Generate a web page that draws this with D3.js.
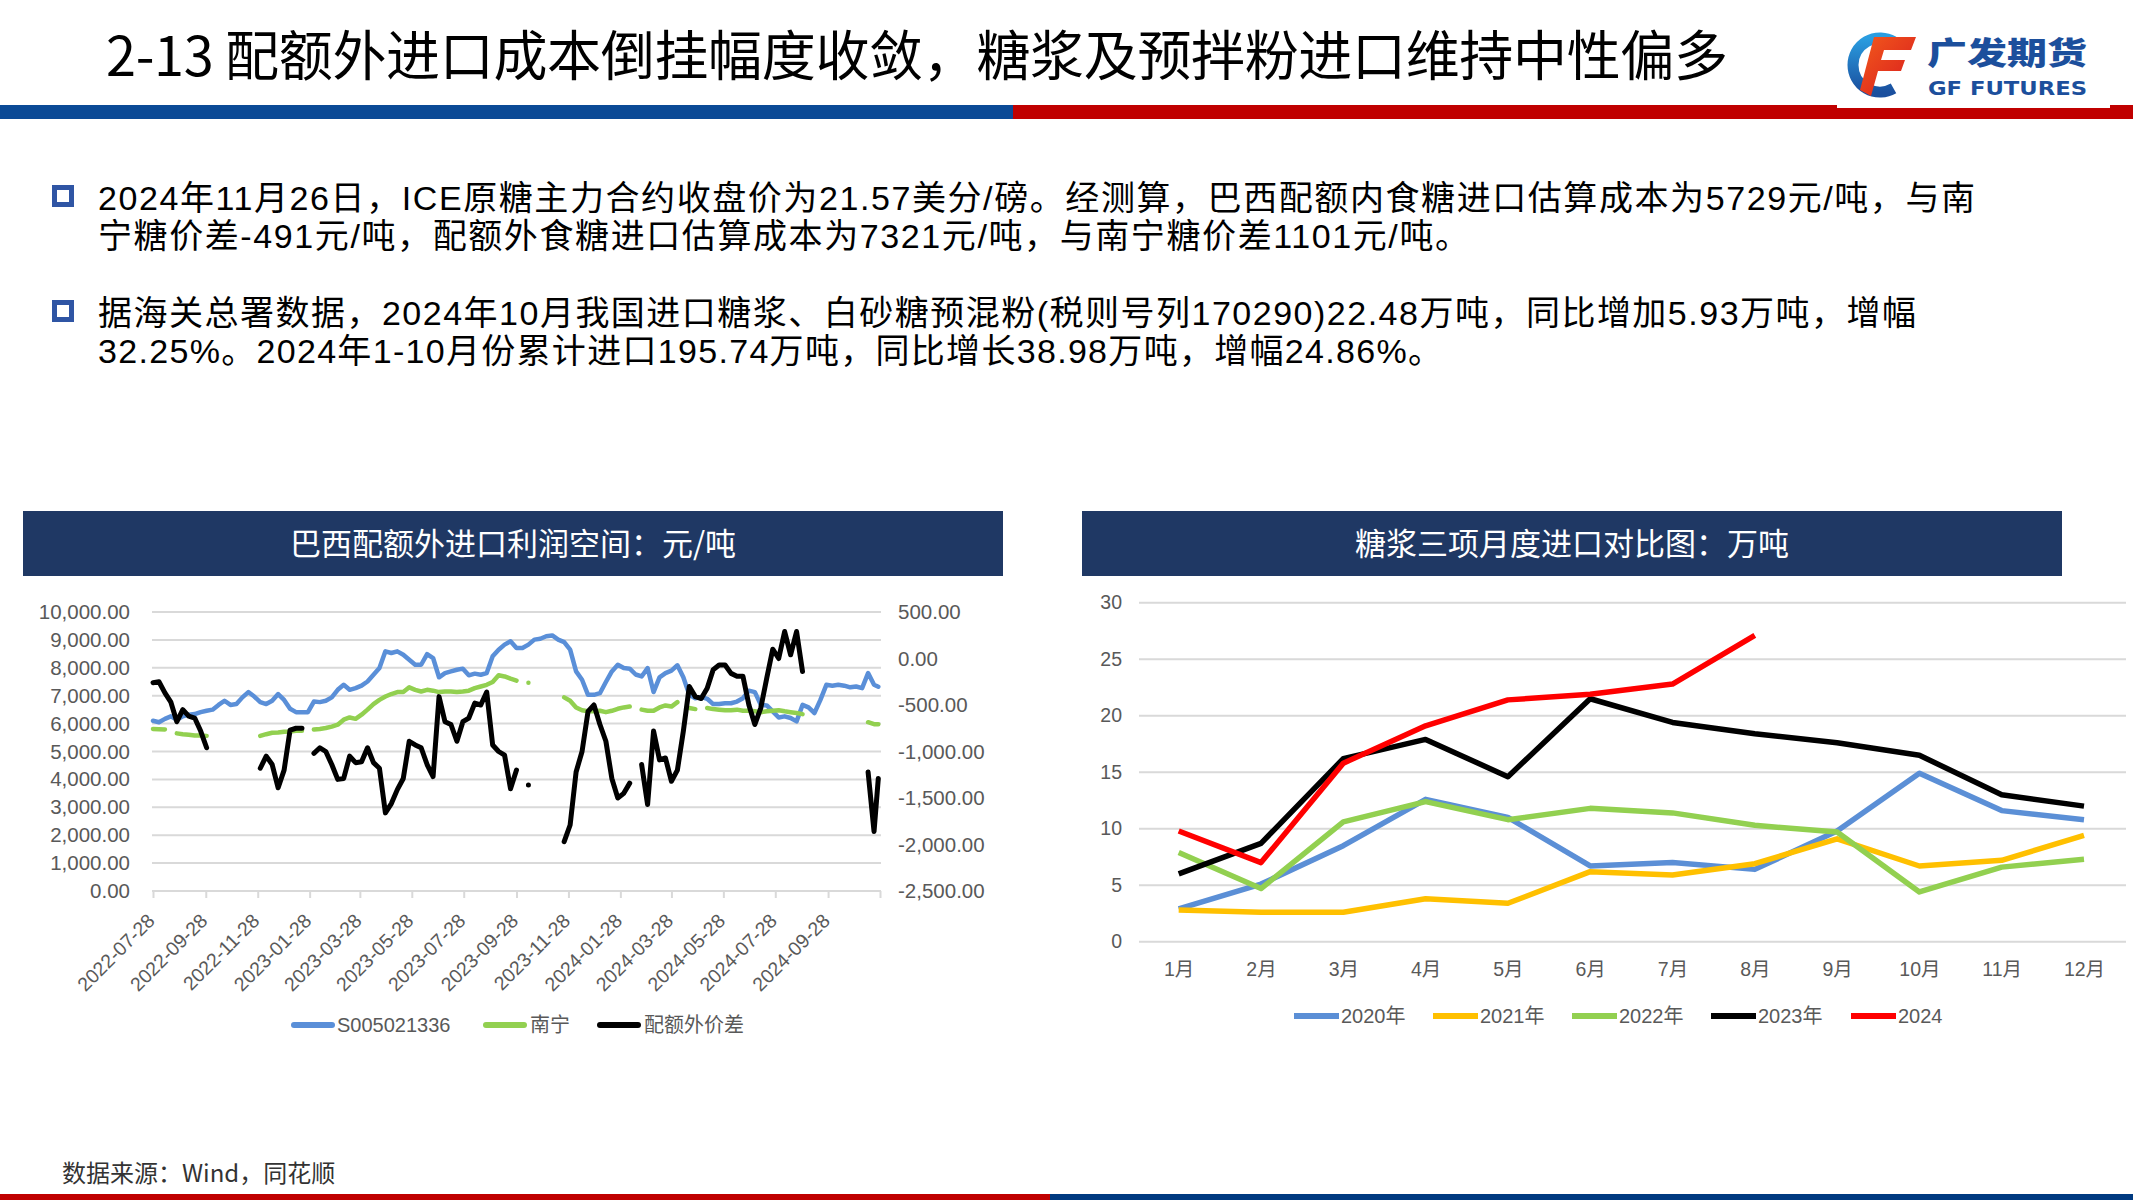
<!DOCTYPE html>
<html><head><meta charset="utf-8">
<script src="https://cdn.jsdelivr.net/npm/d3@7"></script>
<style>
html,body{margin:0;padding:0;background:#fff;}
svg{display:block;}
</style></head><body>
<svg id="c" width="2133" height="1200"></svg>
<script>
// ---------------- DATA ----------------
const titleText = "2-13 配额外进口成本倒挂幅度收敛，糖浆及预拌粉进口维持中性偏多";
const bullet1 = ["2024年11月26日，ICE原糖主力合约收盘价为21.57美分/磅。经测算，巴西配额内食糖进口估算成本为5729元/吨，与南",
                 "宁糖价差-491元/吨，配额外食糖进口估算成本为7321元/吨，与南宁糖价差1101元/吨。"];
const bullet2 = ["据海关总署数据，2024年10月我国进口糖浆、白砂糖预混粉(税则号列170290)22.48万吨，同比增加5.93万吨，增幅",
                 "32.25%。2024年1-10月份累计进口195.74万吨，同比增长38.98万吨，增幅24.86%。"];
const leftTitle = "巴西配额外进口利润空间：元/吨";
const rightTitle = "糖浆三项月度进口对比图：万吨";
const sourceText = "数据来源：Wind，同花顺";

// left chart: weekly samples
const leftDates = ["2022-07-28","2022-08-04","2022-08-11","2022-08-18","2022-08-25","2022-09-01","2022-09-08","2022-09-15","2022-09-22","2022-09-29",
"2022-10-06","2022-10-13","2022-10-20","2022-10-27","2022-11-03","2022-11-10","2022-11-17","2022-11-24","2022-12-01","2022-12-08",
"2022-12-15","2022-12-22","2022-12-29","2023-01-05","2023-01-12","2023-01-19","2023-01-26","2023-02-02","2023-02-09","2023-02-16",
"2023-02-23","2023-03-02","2023-03-09","2023-03-16","2023-03-23","2023-03-30","2023-04-06","2023-04-13","2023-04-20","2023-04-27",
"2023-05-04","2023-05-11","2023-05-18","2023-05-25","2023-06-01","2023-06-08","2023-06-15","2023-06-22","2023-06-29","2023-07-06",
"2023-07-13","2023-07-20","2023-07-27","2023-08-03","2023-08-10","2023-08-17","2023-08-24","2023-08-31","2023-09-07","2023-09-14",
"2023-09-21","2023-09-28","2023-10-05","2023-10-12","2023-10-19","2023-10-26","2023-11-02","2023-11-09","2023-11-16","2023-11-23",
"2023-11-30","2023-12-07","2023-12-14","2023-12-21","2023-12-28","2024-01-04","2024-01-11","2024-01-18","2024-01-25","2024-02-01",
"2024-02-08","2024-02-15","2024-02-22","2024-02-29","2024-03-07","2024-03-14","2024-03-21","2024-03-28","2024-04-04","2024-04-11",
"2024-04-18","2024-04-25","2024-05-02","2024-05-09","2024-05-16","2024-05-23","2024-05-30","2024-06-06","2024-06-13","2024-06-20",
"2024-06-27","2024-07-04","2024-07-11","2024-07-18","2024-07-25","2024-08-01","2024-08-08","2024-08-15","2024-08-22","2024-08-29",
"2024-09-05","2024-09-12","2024-09-19","2024-09-26","2024-10-03","2024-10-10","2024-10-17","2024-10-24","2024-10-31","2024-11-07",
"2024-11-14","2024-11-21","2024-11-26"];

const costS005021336 = [6100,6050,6170,6260,6140,6260,6320,6340,6410,6460,
6500,6670,6820,6670,6700,6940,7130,6970,6770,6700,
6820,7060,6850,6530,6410,6410,6410,6790,6770,6820,
6940,7210,7390,7210,7270,7360,7510,7750,7990,8590,
8530,8590,8470,8290,8110,8110,8490,8350,7660,7810,
7870,7930,7970,7730,7790,7750,7810,8410,8650,8830,
8950,8710,8710,8830,9010,9040,9130,9160,9010,8920,
8650,7870,7570,7030,7030,7090,7490,7870,8110,7990,
7970,7760,7690,7990,7130,7660,7810,7900,8090,7660,
7030,6910,6960,6890,6700,6700,6730,6730,6790,6910,
7180,7130,6670,6650,6440,6220,6260,6200,6080,6670,
6580,6380,6850,7390,7360,7390,7360,7300,7330,7270,
7810,7390,7320];

const nanning = [5810,5800,5790,null,5650,5620,5600,5570,5570,5560,
null,null,null,null,null,null,null,null,5560,5620,
5670,5680,5710,5720,5740,5740,null,5790,5810,5840,
5890,5960,6140,6220,6170,6320,6500,6700,6850,6970,
7060,7130,7130,7300,7210,7150,7210,7180,7130,7150,
7150,7130,7150,7180,7270,7330,7390,7490,7730,7690,
7610,7540,null,7460,null,null,null,null,null,6940,
6820,6580,6480,6440,6440,6460,6410,6460,6530,6580,
6610,null,6500,6460,6460,6580,6650,6610,6770,null,
6560,6520,null,6560,6520,6500,6480,6480,6500,6460,
6460,6440,6410,6440,6460,6480,6440,6410,6380,6340,
null,null,null,null,null,null,null,null,null,null,
6050,5980,5980];

const quotaSpread = [-260,-250,-370,-470,-680,-550,-620,-640,-780,-960,
null,null,null,null,null,null,null,null,-1180,-1050,
-1140,-1390,-1200,-770,-750,-750,null,-1020,-960,-1000,
-1140,-1300,-1290,-1050,-1120,-1110,-960,-1120,-1180,-1660,
-1560,-1410,-1290,-890,-930,-960,-1140,-1270,-410,-680,
-710,-890,-680,-640,-480,-500,-360,-930,-1000,-1040,
-1400,-1200,null,-1360,null,null,null,null,null,-1970,
-1790,-1220,-1000,-570,-500,-710,-890,-1290,-1500,-1450,
-1340,null,-1140,-1570,-780,-1090,-1070,-1320,-1200,-780,
-300,-410,-430,-320,-120,-70,-70,-160,-190,-190,
-500,-710,-530,-210,100,0,290,40,290,-140,
null,null,null,null,null,null,null,null,null,null,
-1220,-1860,-1290];

const leftAxisTicks = [0,1000,2000,3000,4000,5000,6000,7000,8000,9000,10000];
const rightAxisTicks = [-2500,-2000,-1500,-1000,-500,0,500];
const dateTicks = ["2022-07-28","2022-09-28","2022-11-28","2023-01-28","2023-03-28","2023-05-28","2023-07-28",
"2023-09-28","2023-11-28","2024-01-28","2024-03-28","2024-05-28","2024-07-28","2024-09-28","2024-11-28"];
const dateTickLabels = dateTicks.slice(0,14);
const leftSeriesNames = ["S005021336","南宁","配额外价差"];

// right chart
const months = ["1月","2月","3月","4月","5月","6月","7月","8月","9月","10月","11月","12月"];
const imp2020 = [2.9,5.1,8.5,12.6,11.0,6.7,7.0,6.4,9.8,14.9,11.6,10.8];
const imp2021 = [2.8,2.6,2.6,3.8,3.4,6.2,5.9,6.9,9.1,6.7,7.2,9.4];
const imp2022 = [7.9,4.7,10.6,12.4,10.8,11.8,11.4,10.3,9.7,4.4,6.6,7.3];
const imp2023 = [6.0,8.7,16.2,17.9,14.6,21.5,19.4,18.4,17.6,16.5,13.0,12.0];
const imp2024 = [9.8,7.0,15.8,19.1,21.4,21.9,22.8,27.1];
const rightSeriesNames = ["2020年","2021年","2022年","2023年","2024"];
const rightAxisTicksC = [0,5,10,15,20,25,30];

// ---------------- DRAW ----------------
const svg = d3.select("#c");
const CJK = "'Noto Sans CJK SC','Noto Sans',sans-serif";
const BODY = "'Liberation Sans','Noto Sans CJK SC',sans-serif";
const NUM = "'Liberation Sans','Noto Sans CJK SC',sans-serif";
const GRAY = "#595959";
const GRID = "#d9d9d9";

// top bars
svg.append("rect").attr("x",0).attr("y",105).attr("width",1013).attr("height",14).attr("fill","#0b4a96");
svg.append("rect").attr("x",1013).attr("y",105).attr("width",1120).attr("height",14).attr("fill","#c00000");
// bottom bars
svg.append("rect").attr("x",0).attr("y",1194).attr("width",1050).attr("height",6).attr("fill","#c00000");
svg.append("rect").attr("x",1050).attr("y",1194).attr("width",1083).attr("height",6).attr("fill","#003a80");

// title
svg.append("text").attr("x",106).attr("y",52).attr("dominant-baseline","central")
  .attr("font-family",CJK).attr("font-size",54).attr("fill","#000")
  .attr("textLength",1622).attr("lengthAdjust","spacing").text(titleText);

// logo
const logo = svg.append("g");
logo.append("rect").attr("x",1837).attr("y",0).attr("width",273).attr("height",108).attr("fill","#fff");
const defs = svg.append("defs");
const gb = defs.append("linearGradient").attr("id","gb").attr("x1","0").attr("y1","0").attr("x2","0").attr("y2","1");
gb.append("stop").attr("offset","0").attr("stop-color","#2a9de0");
gb.append("stop").attr("offset","1").attr("stop-color","#1a4f9e");
const gr = defs.append("linearGradient").attr("id","gr").attr("x1","0").attr("y1","0").attr("x2","1").attr("y2","1");
gr.append("stop").attr("offset","0").attr("stop-color","#f25a1c");
gr.append("stop").attr("offset","1").attr("stop-color","#d8191e");
const cx0 = 1880, cy0 = 65, r0 = 27;
const a1 = -60*Math.PI/180, a2 = 60*Math.PI/180;
logo.append("path")
  .attr("d",`M${cx0+r0*Math.cos(a1)},${cy0+r0*Math.sin(a1)} A${r0},${r0} 0 1 0 ${cx0+r0*Math.cos(a2)},${cy0+r0*Math.sin(a2)}`)
  .attr("fill","none").attr("stroke","url(#gb)").attr("stroke-width",11);
logo.append("path").attr("d","M1874,37 L1916,37 L1911,50 L1884,50 L1881,60 L1905,60 L1901,71 L1878,71 L1871,96 L1860,90 Z")
  .attr("fill","url(#gr)");
logo.append("text").attr("x",1927).attr("y",50).attr("dominant-baseline","central")
  .attr("font-family",CJK).attr("font-weight",900).attr("font-size",31).attr("fill","#1c4f9c")
  .attr("textLength",160).attr("lengthAdjust","spacingAndGlyphs").text("广发期货");
logo.append("text").attr("x",1928).attr("y",88).attr("dominant-baseline","central")
  .attr("font-family","'DejaVu Sans',sans-serif").attr("font-weight",700).attr("font-size",19).attr("fill","#1c4f9c")
  .attr("textLength",159).attr("lengthAdjust","spacingAndGlyphs").text("GF FUTURES");

// bullets
function bulletSquare(y){
  svg.append("rect").attr("x",54.5).attr("y",y-8.5).attr("width",17).attr("height",17)
    .attr("fill","#fff").attr("stroke","#2f55a4").attr("stroke-width",5);
}
function paragraph(lines, baseY, widths){
  lines.forEach((s,i)=>{
    svg.append("text").attr("x",98).attr("y",baseY+i*38)
      .attr("font-family",BODY).attr("font-size",34).attr("fill","#000")
      .attr("textLength",widths[i]).attr("lengthAdjust","spacing").text(s);
  });
}
bulletSquare(196); bulletSquare(311);
paragraph(bullet1, 210, [1877, 1371]);
paragraph(bullet2, 325, [1818, 1344]);

// chart headers
function header(x,w,txt){
  svg.append("rect").attr("x",x).attr("y",511).attr("width",w).attr("height",65).attr("fill","#1f3864");
  svg.append("text").attr("x",x+w/2).attr("y",541).attr("text-anchor","middle").attr("dominant-baseline","central")
    .attr("font-family",CJK).attr("font-size",31).attr("fill","#fff").text(txt);
}
header(23,980,leftTitle);
header(1082,980,rightTitle);

// source
svg.append("text").attr("x",62).attr("y",1171).attr("dominant-baseline","central")
  .attr("font-family",CJK).attr("font-size",24).attr("fill","#333").text(sourceText);

// ---------- LEFT CHART ----------
const parse = d3.timeParse("%Y-%m-%d");
const xL = d3.scaleTime().domain([parse("2022-07-28"), parse("2024-11-28")]).range([153, 880]);
const yL = d3.scaleLinear().domain([0,10000]).range([891, 612]);
const yR = d3.scaleLinear().domain([-2500,500]).range([891, 612]);
const loc = d3.formatLocale({decimal:".", thousands:",", grouping:[3], currency:["",""], minus:"-"});
const f2 = loc.format(",.2f");

const gL = svg.append("g");
gL.selectAll("line.grid").data(leftAxisTicks.filter(d=>d>0)).join("line")
  .attr("x1",152).attr("x2",881).attr("y1",d=>yL(d)).attr("y2",d=>yL(d))
  .attr("stroke",GRID).attr("stroke-width",2);
const axL = gL.append("g").attr("transform","translate(133,0)")
  .call(d3.axisLeft(yL).tickValues(leftAxisTicks).tickSize(0).tickPadding(3).tickFormat(f2));
axL.select(".domain").remove();
axL.selectAll("text").attr("font-family",NUM).attr("font-size",20.5).attr("fill",GRAY);
const axR = gL.append("g").attr("transform","translate(895,0)")
  .call(d3.axisRight(yR).tickValues(rightAxisTicks).tickSize(0).tickPadding(3).tickFormat(f2));
axR.select(".domain").remove();
axR.selectAll("text").attr("font-family",NUM).attr("font-size",20.5).attr("fill",GRAY);
const axB = gL.append("g").attr("transform","translate(0,891)")
  .call(d3.axisBottom(xL).tickValues(dateTicks.map(parse)).tickSize(7).tickFormat(""));
axB.select(".domain").attr("d","M152,0H881").attr("stroke",GRID).attr("stroke-width",2);
axB.selectAll(".tick line").attr("stroke",GRID).attr("stroke-width",2);
gL.selectAll("text.dl").data(dateTickLabels).join("text").attr("class","dl")
  .attr("transform",d=>`translate(${xL(parse(d))+3},922) rotate(-45)`)
  .attr("text-anchor","end").attr("font-family",NUM).attr("font-size",19.5).attr("fill",GRAY).text(d=>d);

const dts = leftDates.map(parse);
function drawSeries(vals, yScale, color, width){
  const line = d3.line().defined(d=>d[1]!==null).x(d=>xL(d[0])).y(d=>yScale(d[1]));
  gL.append("path").datum(dts.map((d,i)=>[d, vals[i]])).attr("d",line)
    .attr("fill","none").attr("stroke",color).attr("stroke-width",width)
    .attr("stroke-linejoin","round").attr("stroke-linecap","round");
}
const leftColors = ["#5a8fd8","#92d050","#000000"];
drawSeries(costS005021336, yL, leftColors[0], 4.5);
drawSeries(nanning, yL, leftColors[1], 4.5);
drawSeries(quotaSpread, yR, leftColors[2], 5);

const legL = [{x:291,tx:337},{x:483,tx:530},{x:597,tx:644}];
legL.forEach((p,i)=>{
  gL.append("line").attr("x1",p.x+3).attr("x2",p.x+41).attr("y1",1025).attr("y2",1025)
    .attr("stroke",leftColors[i]).attr("stroke-width",6).attr("stroke-linecap","round");
  gL.append("text").attr("x",p.tx).attr("y",1025).attr("dominant-baseline","central")
    .attr("font-family",NUM).attr("font-size",20).attr("fill",GRAY).text(leftSeriesNames[i]);
});

// ---------- RIGHT CHART ----------
const gR = svg.append("g");
const xC = d3.scalePoint().domain(months).range([1178.7, 2084]);
const yC = d3.scaleLinear().domain([0,30]).range([941.7, 602.7]);
gR.selectAll("line.grid").data(rightAxisTicksC).join("line")
  .attr("x1",1139).attr("x2",2126).attr("y1",d=>yC(d)).attr("y2",d=>yC(d))
  .attr("stroke",GRID).attr("stroke-width",2);
const axC = gR.append("g").attr("transform","translate(1125,0)")
  .call(d3.axisLeft(yC).tickValues(rightAxisTicksC).tickSize(0).tickPadding(3));
axC.select(".domain").remove();
axC.selectAll("text").attr("font-family",NUM).attr("font-size",19.5).attr("fill",GRAY);
const axM = gR.append("g").attr("transform","translate(0,958)")
  .call(d3.axisBottom(xC).tickSize(0).tickPadding(4));
axM.select(".domain").remove();
axM.selectAll("text").attr("font-family",NUM).attr("font-size",19.5).attr("fill",GRAY);

const rightColors = ["#5b8fd6","#ffc000","#92d050","#000000","#ff0000"];
[imp2020,imp2021,imp2022,imp2023,imp2024].forEach((vals,i)=>{
  const line = d3.line().x((d,j)=>xC(months[j])).y(d=>yC(d));
  gR.append("path").datum(vals).attr("d",line).attr("fill","none")
    .attr("stroke",rightColors[i]).attr("stroke-width",5.5).attr("stroke-linejoin","round");
});
const legR = [1294,1433,1572,1711,1851];
legR.forEach((x,i)=>{
  gR.append("line").attr("x1",x).attr("x2",x+45).attr("y1",1016).attr("y2",1016)
    .attr("stroke",rightColors[i]).attr("stroke-width",6);
  gR.append("text").attr("x",x+47).attr("y",1016).attr("dominant-baseline","central")
    .attr("font-family",NUM).attr("font-size",20).attr("fill",GRAY).text(rightSeriesNames[i]);
});
</script>
</body></html>
